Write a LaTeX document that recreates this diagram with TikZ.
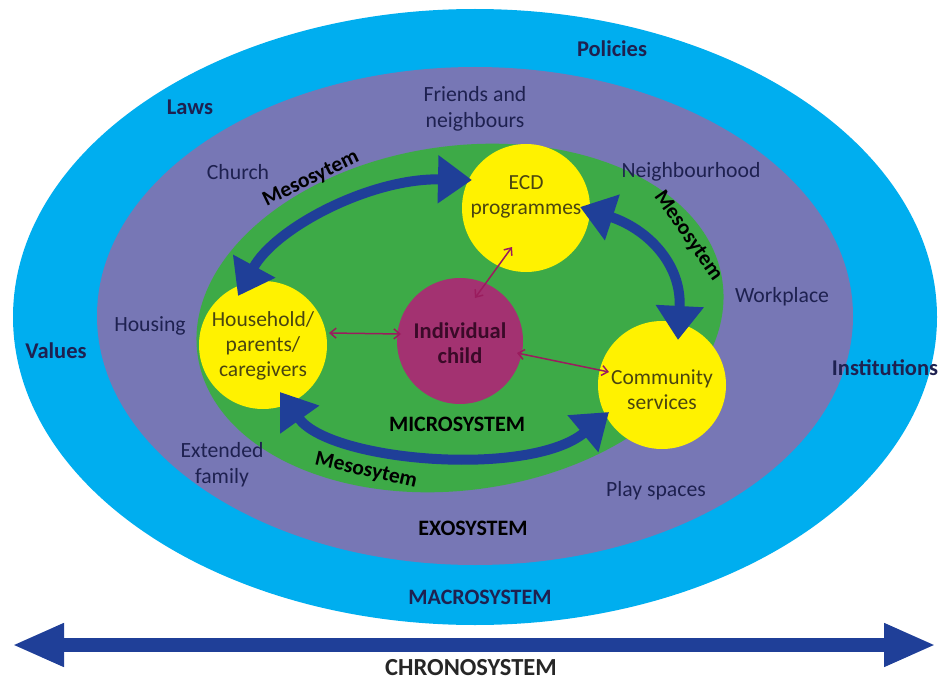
\documentclass[tikz,border=0pt]{standalone}
\usepackage{fontspec}
\setmainfont{Carlito}
\usetikzlibrary{arrows.meta}
\definecolor{cyanc}{HTML}{00AEEF}
\definecolor{purplec}{HTML}{7777B5}
\definecolor{greenc}{HTML}{3DAA47}
\definecolor{yellowc}{HTML}{FFF200}
\definecolor{magc}{HTML}{A33271}
\definecolor{navyarrow}{HTML}{1F3F98}
\definecolor{linkc}{HTML}{9B1C5E}
\definecolor{navytext}{HTML}{1E2150}
\definecolor{olivetext}{HTML}{4A4510}
\definecolor{childtext}{HTML}{3A0A28}
\tikzset{
  reg/.style={font=\fontsize{21.7}{26}\selectfont, text=navytext, align=center, inner sep=0pt},
  boldlab/.style={font=\fontsize{22.5}{26}\selectfont\bfseries, text=navytext, align=center, inner sep=0pt},
  caplab/.style={font=\fontsize{22}{26}\selectfont\bfseries, text=black, align=center, inner sep=0pt},
  ycirc/.style={circle, fill=yellowc, minimum size=128pt, inner sep=0pt},
  ytext/.style={font=\fontsize{21.5}{25}\selectfont, text=olivetext, align=center, inner sep=0pt},
  meso/.style={draw=navyarrow, line width=10pt, {Triangle[length=34pt,width=46pt]}-{Triangle[length=34pt,width=46pt]}},
  mesolab/.style={font=\fontsize{21.5}{24}\selectfont\bfseries, text=black, inner sep=0pt},
  link/.style={draw=linkc, line width=1.5pt, {Straight Barb[length=6pt,width=10pt]}-{Straight Barb[length=6pt,width=10pt]}},
  chrono/.style={draw=navyarrow, line width=14pt, {Triangle[length=52pt,width=40pt]}-{Triangle[length=52pt,width=40pt]}}
}
\begin{document}
\begin{tikzpicture}[x=1pt,y=-1pt]
\useasboundingbox (0,0) rectangle (940,682);
\fill[white] (0,0) rectangle (940,682);
% systems
\fill[cyanc] (475,317) ellipse [x radius=462pt, y radius=308pt];
\fill[purplec] (475,316) ellipse [x radius=378pt, y radius=249pt];
\fill[greenc, rotate around={8:(460,318)}] (460,318) ellipse [x radius=265pt, y radius=172pt];
% macro labels
\node[boldlab] (pol) at (612,49) {Policies};
\node[boldlab] (laws) at (190,107) {Laws};
\node[boldlab] (val) at (56,351) {Values};
\node[boldlab] (inst) at (885,368) {Institutions};
\node[caplab, text=navytext] (macro) at (480,597) {MACROSYSTEM};
% exo labels
\node[reg] (friends) at (475,109) {Friends and\\neighbours};
\node[reg] (church) at (238,172) {Church};
\node[reg] (nbh) at (691,172) {Neighbourhood};
\node[reg] (work) at (782,297) {Workplace};
\node[reg] (hous) at (150,326) {Housing};
\node[reg] (ext) at (222,465) {Extended\\family};
\node[reg] (play) at (656,491) {Play spaces};
\node[caplab] (exo) at (473,528) {EXOSYSTEM};
% micro
\node[caplab] (micro) at (457,424) {MICROSYSTEM};
\node[ycirc] (ecd) at (526,208) {};
\node[ycirc] (hh) at (263,345) {};
\node[ycirc] (com) at (662,385) {};
\node[circle, fill=magc, minimum size=126pt, inner sep=0pt] (child) at (460,341) {};
\node[ytext] (ecdt) at (526,197) {ECD\\programmes};
\node[ytext] (hht) at (263,346) {Household/\\parents/\\caregivers};
\node[ytext] (comt) at (662,390) {Community\\services};
\node[font=\fontsize{22.5}{25}\selectfont\bfseries, text=childtext, align=center, inner sep=0pt] (childt) at (460,343) {Individual\\child};
% links
\coordinate (l1a) at (329,333);
\coordinate (l1b) at (401,334);
\draw[link] (l1a) -- (l1b);
\coordinate (l2a) at (512,247);
\coordinate (l2b) at (475,298);
\draw[link] (l2a) -- (l2b);
\coordinate (l3a) at (517,353);
\coordinate (l3b) at (609,372);
\draw[link] (l3a) -- (l3b);
% mesosystem arrows
\coordinate (m1a) at (238,296);
\coordinate (m1b) at (472,180);
\draw[meso] (m1a) .. controls (275,228) and (370,178) .. (m1b);
\coordinate (m2a) at (580,207);
\coordinate (m2b) at (678,340);
\draw[meso] (m2a) .. controls (645,228) and (682,262) .. (m2b);
\coordinate (m3a) at (280,392);
\coordinate (m3b) at (609,412);
\draw[meso] (m3a) .. controls (330,462) and (530,478) .. (m3b);
\node[mesolab, rotate=26] (ml1) at (311,179) {Mesosytem};
\node[mesolab, rotate=-55] (ml2) at (688,236) {Mesosytem};
\node[mesolab, rotate=-13] (ml3) at (366,471) {Mesosytem};
% chronosystem
\coordinate (c1) at (12,645);
\coordinate (c2) at (936,645);
\draw[chrono] (c1) -- (c2);
\node[font=\fontsize{24.5}{28}\selectfont\bfseries, text=black!85, inner sep=0pt] (chr) at (471,668) {CHRONOSYSTEM};
\end{tikzpicture}
\end{document}
